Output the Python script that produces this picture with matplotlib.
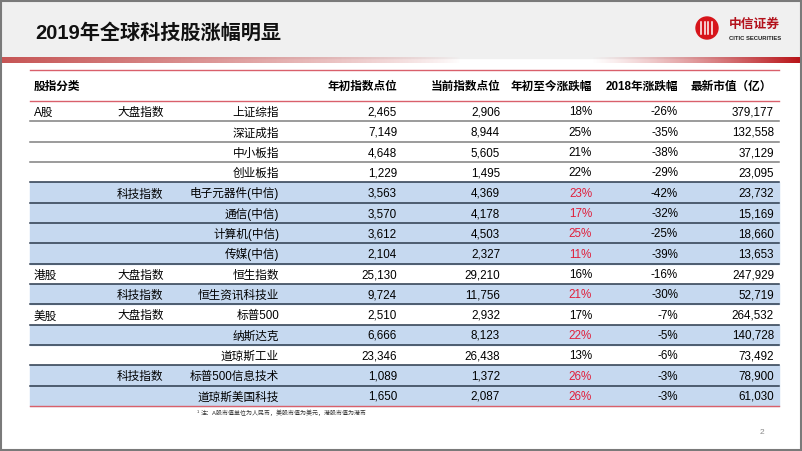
import numpy as np
import matplotlib
matplotlib.use("Agg")
import matplotlib.pyplot as plt
from matplotlib.patches import Rectangle, Circle

plt.rcParams['font.family'] = ['Liberation Sans', 'Noto Sans CJK SC', 'DejaVu Sans']

# table data
headers = ['股指分类', '年初指数点位', '当前指数点位', '年初至今涨跌幅', '2018年涨跌幅', '最新市值（亿）']
markets = ['A股', '', '', '', '', '', '', '', '港股', '', '美股', '', '', '', '']
groups = ['大盘指数', '', '', '', '科技指数', '', '', '', '大盘指数', '科技指数',
          '大盘指数', '', '', '科技指数', '']
names = ['上证综指', '深证成指', '中小板指', '创业板指', '电子元器件(中信)', '通信(中信)',
         '计算机(中信)', '传媒(中信)', '恒生指数', '恒生资讯科技业', '标普500', '纳斯达克',
         '道琼斯工业', '标普500信息技术', '道琼斯美国科技']
start_pts = [2465, 7149, 4648, 1229, 3563, 3570, 3612, 2104, 25130, 9724, 2510, 6666,
             23346, 1089, 1650]
current_pts = [2906, 8944, 5605, 1495, 4369, 4178, 4503, 2327, 29210, 11756, 2932, 8123,
               26438, 1372, 2087]
ytd_chg = [18, 25, 21, 22, 23, 17, 25, 11, 16, 21, 17, 22, 13, 26, 26]
chg_2018 = [-26, -35, -38, -29, -42, -32, -25, -39, -16, -30, -7, -5, -6, -3, -3]
market_cap = [379177, 132558, 37129, 23095, 23732, 15169, 18660, 13653, 247929, 52719,
              264532, 140728, 73492, 78900, 61030]
highlight = [0, 0, 0, 0, 1, 1, 1, 1, 0, 1, 0, 1, 0, 1, 1]

title = '2019年全球科技股涨幅明显'
note = '注：A股市值单位为人民币，美股市值为美元，港股市值为港币'

W, H = 802, 451
fig = plt.figure(figsize=(W / 100, H / 100), dpi=100)
ax = fig.add_axes([0, 0, 1, 1])
ax.set_xlim(0, W)
ax.set_ylim(H, 0)
ax.axis('off')

# header band
ax.add_patch(Rectangle((0, 0), W, 58, color='#f0f0f0', zorder=0))
grad = np.zeros((1, W, 4))
xs = np.arange(W)
left_a = np.clip(1 - xs / 460, 0, 1) ** 0.8
right_a = np.clip((xs - 590) / 212, 0, 1) ** 1.2
grad[0, :, 0] = np.where(right_a > left_a, 0.72, 0.78)
grad[0, :, 1] = np.where(right_a > left_a, 0.06, 0.33)
grad[0, :, 2] = np.where(right_a > left_a, 0.08, 0.33)
grad[0, :, 3] = np.maximum(left_a, right_a)
ax.imshow(grad, extent=[0, W, 63, 57], aspect='auto', zorder=1)

ax.text(35, 33, title, fontsize=14.5, fontweight='bold', va='center', ha='left',
        color='#111111')

# logo
ax.add_patch(Circle((707, 28), 11, color='#d7141a', zorder=3))
for dx in [-6, -2.5, 1, 4.5]:
    ax.plot([707 + dx, 707 + dx], [22, 34], color='white', lw=1.1, zorder=4)
ax.text(729, 25, '中信证券', fontsize=9.2, fontweight='bold', color='#b3121c',
        ha='left', va='center')
ax.text(729, 38, 'CITIC SECURITIES', fontsize=4.2, fontweight='bold', color='#222222',
        ha='left', va='center')

# table geometry
x0, x1 = 30, 779
top_y, head_bot = 70, 101
row_h = 20.33
red = '#d9606b'
fs = 8.4
base = 4.2  # baseline offset below row centre
col_right = [397, 500, 592, 678, 772]


def cell(x, y, s, ha, **kw):
    # CJK glyphs sit a little higher than Latin digits, nudge them down
    off = 0.8 if any(ord(c) > 0x2000 for c in s) else 0
    ax.text(x, y + base + off, s, fontsize=fs, ha=ha, va='baseline', **kw)


ax.plot([x0, x1], [top_y, top_y], color=red, lw=1.0)
cell(34, 85, headers[0], 'left', fontweight='bold')
for xr, h in zip(col_right, headers[1:]):
    cell(xr, 85, h, 'right', fontweight='bold')

n = len(names)
for i in range(n):
    yt = head_bot + i * row_h
    yc = yt + row_h / 2
    if highlight[i]:
        ax.add_patch(Rectangle((x0, yt), x1 - x0, row_h, color='#c6d9f0', zorder=0.5))
    cell(34, yc, markets[i], 'left')
    cell(117, yc, groups[i], 'left')
    cell(279, yc, names[i], 'right')
    cell(397, yc, f'{start_pts[i]:,}', 'right')
    cell(500, yc, f'{current_pts[i]:,}', 'right')
    cell(592, yc, f'{ytd_chg[i]}%', 'right',
         color='#e0203c' if highlight[i] else 'black')
    cell(678, yc, f'{chg_2018[i]}%', 'right')
    cell(774, yc, f'{market_cap[i]:,}', 'right')
    # separator below the row
    yb = yt + row_h
    if i == n - 1:
        ax.plot([x0, x1], [yb, yb], color=red, lw=1.0, zorder=2)
    else:
        dark = highlight[i] or highlight[i + 1]
        ax.plot([x0, x1], [yb, yb], color='#2c3a4c' if dark else '#808080',
                lw=1.1, zorder=2)

ax.plot([x0, x1], [head_bot, head_bot], color=red, lw=1.0, zorder=2)

# footnote and page number
ax.text(199, 412, '1', fontsize=3, ha='right', va='center', color='#333333')
ax.text(201, 413, note, fontsize=4.3, ha='left', va='center', color='#333333')
ax.text(762, 433, '2', fontsize=6, ha='center', va='center', color='#888888')

# slide frame
ax.add_patch(Rectangle((1, 1), W - 2, H - 2, fill=False, ec='#7a7a7a', lw=1.5, zorder=5))

fig.savefig('out.png', dpi=100)
